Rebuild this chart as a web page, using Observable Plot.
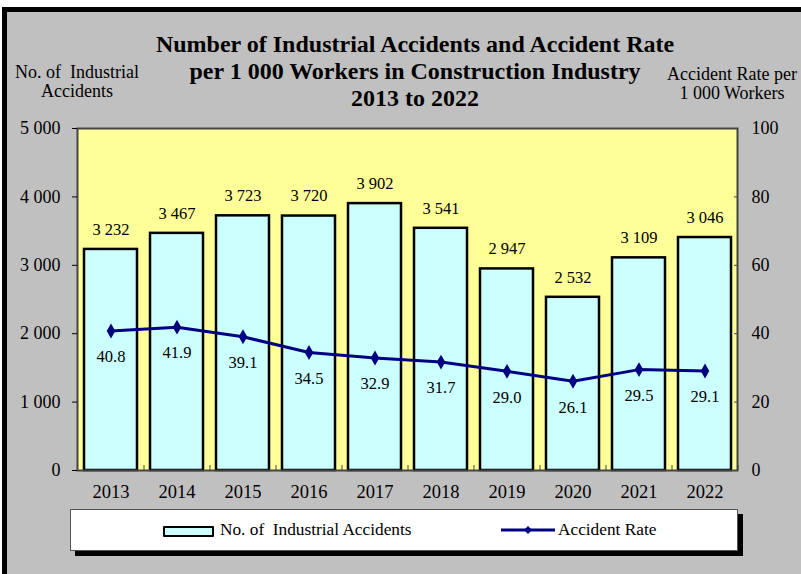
<!DOCTYPE html>
<html>
<head>
<meta charset="utf-8">
<script src="https://cdn.jsdelivr.net/npm/d3@7"></script>
<script src="https://cdn.jsdelivr.net/npm/@observablehq/plot@0.6"></script>
<style>
  html, body { margin: 0; padding: 0; background: #fff; }
  #wrap { position: relative; width: 801px; height: 574px; overflow: hidden; font-family: "Liberation Serif", "Times New Roman", serif; color: #000; }
  #panel { position: absolute; left: 2px; top: 7px; width: 804px; height: 580px; background: #C0C0C0; border-top: 5px solid #000; border-left: 5px solid #000; box-sizing: border-box; }
  #chart { position: absolute; left: 0; top: 0; }
  .title { position: absolute; left: 65px; width: 700px; top: 31px; text-align: center; font-weight: bold; font-size: 24px; line-height: 27px; white-space: nowrap; }
  .ylab { position: absolute; text-align: center; font-size: 18px; line-height: 19px; white-space: nowrap; }
  #legend { position: absolute; left: 70px; top: 509px; width: 668px; height: 42px; background: #fff; border: 1px solid #555; box-sizing: border-box; box-shadow: 5px 5px 0 #000; font-size: 17.3px; }
  .sw { position: absolute; }
  .lt { position: absolute; top: 10px; line-height: 20px; white-space: pre; }
</style>
</head>
<body>
<div id="wrap">
  <div id="panel"></div>
  <div id="chart"></div>
  <div class="title">Number of Industrial Accidents and Accident Rate<br>per 1 000 Workers in Construction Industry<br>2013 to 2022</div>
  <div class="ylab" style="left:2px; width:150px; top:63px;">No. of&nbsp; Industrial<br>Accidents</div>
  <div class="ylab" style="left:652px; width:160px; top:65px;">Accident Rate per<br>1 000 Workers</div>
  <div id="legend">
    <div class="sw" style="left:92px; top:16px; width:47px; height:7px; background:#CCFFFF; border:2.5px solid #000; border-radius:1px;"></div>
    <div class="lt" style="left:149px;">No. of  Industrial Accidents</div>
    <svg class="sw" style="left:430px; top:12px;" width="54" height="16">
      <line x1="0" y1="8" x2="54" y2="8" stroke="#000080" stroke-width="3"/>
      <path d="M27,4 L31,8 L27,12 L23,8 Z" fill="#000080"/>
    </svg>
    <div class="lt" style="left:487px;">Accident Rate</div>
  </div>
</div>
<script>
const years = ["2013","2014","2015","2016","2017","2018","2019","2020","2021","2022"];
const accidents = [3232, 3467, 3723, 3720, 3902, 3541, 2947, 2532, 3109, 3406];
const accidentLabels = ["3 232","3 467","3 723","3 720","3 902","3 541","2 947","2 532","3 109","3 046"];
const rates = [40.8, 41.9, 39.1, 34.5, 32.9, 31.7, 29.0, 26.1, 29.5, 29.1];
const rateLabels = ["40.8","41.9","39.1","34.5","32.9","31.7","29.0","26.1","29.5","29.1"];
const leftTicks = [0, 1000, 2000, 3000, 4000, 5000];
const rightTicks = [0, 20, 40, 60, 80, 100];

const ratio = 5000 / 100;
const data = years.map((y, i) => ({year: y, count: accidents[i], label: accidentLabels[i], rate: rates[i], rateLabel: rateLabels[i]}));
const fmt = d => d3.format(",")(d).replace(/,/g, " ");

const plot = Plot.plot({
  width: 801,
  height: 574,
  marginLeft: 77,
  marginRight: 64,
  marginTop: 128,
  marginBottom: 104,
  style: {background: "transparent", fontFamily: "'Liberation Serif', 'Times New Roman', serif", fontSize: "18px", color: "#000"},
  x: {domain: years, paddingInner: 0.2, paddingOuter: 0.1, label: null},
  y: {domain: [0, 5000], label: null},
  marks: [
    Plot.frame({fill: "#FFFF99"}),
    Plot.barY(data, {x: "year", y: "count", fill: "#CCFFFF", stroke: "#000", strokeWidth: 2.5}),
    Plot.text(data, {x: "year", y: "count", text: "label", dy: -20, fontSize: 16.5, fill: "#000"}),
    Plot.line(data, {x: "year", y: d => d.rate * ratio, stroke: "#000080", strokeWidth: 3}),
    Plot.dot(data, {x: "year", y: d => d.rate * ratio, symbol: "diamond", r: 4.5, fill: "#000080"}),
    Plot.text(data, {x: "year", y: d => d.rate * ratio, text: "rateLabel", dy: 26, fontSize: 16.5, fill: "#000"}),
    Plot.frame({stroke: "#444", strokeWidth: 2}),
    Plot.axisY({ticks: leftTicks, tickFormat: fmt, tickSize: 5, tickPadding: 12, anchor: "left", fontSize: 18}),
    Plot.axisY({ticks: leftTicks, tickFormat: () => "", tickSize: 4, dx: -4, anchor: "right", stroke: "#444"}),
    Plot.axisY({ticks: rightTicks.map(d => d * ratio), tickFormat: d => String(d / ratio), tickSize: 0, tickPadding: 14, anchor: "right", fontSize: 18, textAnchor: "start"}),
    Plot.axisX({tickSize: 5, dx: 33, dy: -5, tickFormat: () => "", stroke: "#444"}),
    Plot.axisX({tickSize: 0, tickPadding: 14, fontSize: 18.5})
  ]
});
document.getElementById("chart").appendChild(plot);
</script>
</body>
</html>
